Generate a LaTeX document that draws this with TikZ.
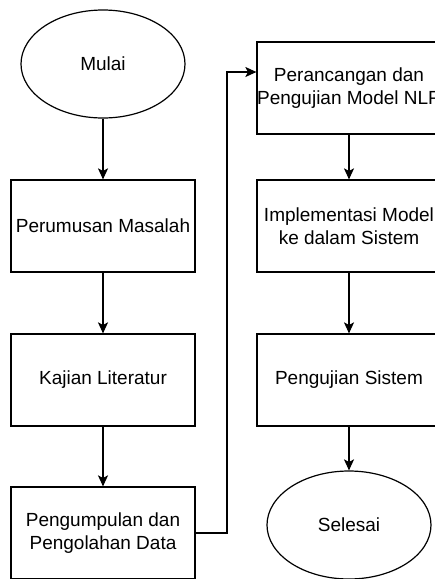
\documentclass[tikz,border=0pt]{standalone}
\usepackage{fontspec}
\setmainfont{Liberation Sans}
\usetikzlibrary{arrows.meta}
\usetikzlibrary{shapes.geometric}

\begin{document}
\begin{tikzpicture}[x=1pt,y=-1pt,
        proses/.style={draw,line width=1.2pt,minimum width=184pt,minimum height=92pt,align=center,inner sep=0pt,font=\fontsize{19}{23}\selectfont},
        terminal/.style={draw,ellipse,line width=1.2pt,minimum width=164pt,minimum height=108pt,inner sep=0pt,font=\fontsize{19}{23}\selectfont},
        alur/.style={line width=1.2pt,-{Stealth[length=11pt,width=10pt,inset=2.5pt]}}]
        \useasboundingbox (0,0) rectangle (435,579);
        \clip (0,0) rectangle (435,579);

        % kolom kiri
        \node[terminal] (mulai) at (103,64){Mulai};
        \node[proses] (rumusan) at (103,226){Perumusan Masalah};
        \node[proses] (kajian) at (103,380){Kajian Literatur};
        \node[proses] (data) at (103,533){Pengumpulan dan\\Pengolahan Data};

        % kolom kanan
        \node[proses] (rancang) at (349,88){Perancangan dan\\Pengujian Model NLP};
        \node[proses] (implementasi) at (349,226){Implementasi Model\\ke dalam Sistem};
        \node[proses] (uji) at (349,380){Pengujian Sistem};
        \node[terminal] (selesai) at (349,525){Selesai};

        \draw[alur] (mulai)--(rumusan);
        \draw[alur] (rumusan)--(kajian);
        \draw[alur] (kajian)--(data);
        \draw[alur] (data.east)-|(227,72)--(rancang.west|-0,72);
        \draw[alur] (rancang)--(implementasi);
        \draw[alur] (implementasi)--(uji);
        \draw[alur] (uji)--(selesai);
    \end{tikzpicture}
\end{document}
